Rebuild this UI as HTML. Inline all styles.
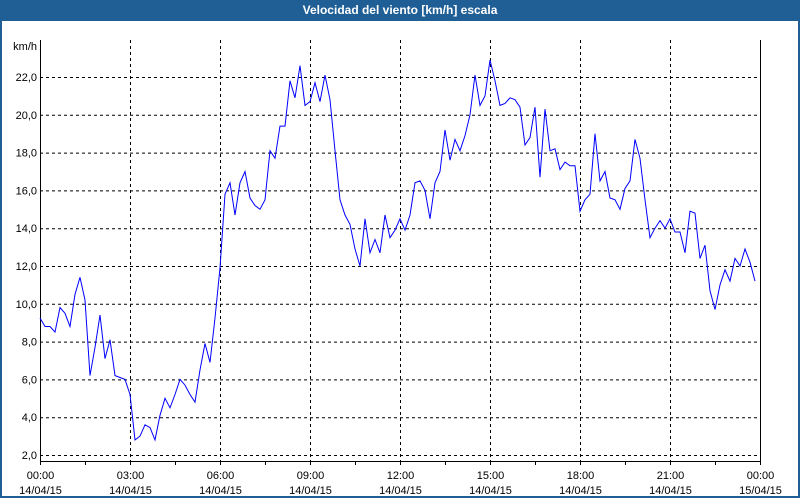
<!DOCTYPE html>
<html><head><meta charset="utf-8"><style>
body{margin:0;width:800px;height:500px;overflow:hidden;background:#fff;font-family:"Liberation Sans",sans-serif}
#win{position:absolute;left:0;top:0;width:796px;height:496px;border:2px solid #1f5f96;border-top:none;background:#fff}
#title{position:absolute;left:0;top:0;width:800px;height:21px;background:#1f5f96;color:#fff;font-weight:bold;font-size:12px;text-align:center;line-height:21px}
svg{position:absolute;left:0;top:0}
svg text{font-family:"Liberation Sans",sans-serif;font-size:11px;fill:#000}
</style></head><body>
<div id="win"></div>
<div id="title">Velocidad del viento [km/h] escala</div>
<svg id="chart" width="800" height="500"></svg>
<script>
const yTicks=[2,4,6,8,10,12,14,16,18,20,22];
const xTickLabels=["00:00","03:00","06:00","09:00","12:00","15:00","18:00","21:00","00:00"];
const xDateLabels=["14/04/15","14/04/15","14/04/15","14/04/15","14/04/15","14/04/15","14/04/15","14/04/15","15/04/15"];
const speed=[9.25,8.8,8.8,8.5,9.8,9.5,8.8,10.5,11.4,10.2,6.2,7.7,9.4,7.1,8.1,6.2,6.1,6.0,5.2,2.8,3.0,3.6,3.45,2.8,4.1,5.0,4.5,5.2,6.0,5.7,5.2,4.8,6.5,7.9,6.9,9.25,11.9,15.8,16.4,14.7,16.4,17.0,15.6,15.2,15.0,15.5,18.1,17.7,19.4,19.4,21.8,20.9,22.6,20.5,20.7,21.7,20.7,22.1,20.8,18.1,15.5,14.7,14.2,12.9,12.0,14.5,12.7,13.4,12.7,14.7,13.5,13.9,14.5,13.9,14.7,16.4,16.5,16.0,14.5,16.4,17.0,19.2,17.6,18.7,18.1,18.9,20.0,22.1,20.5,21.0,22.9,21.8,20.5,20.6,20.9,20.8,20.4,18.4,18.8,20.4,16.7,20.3,18.1,18.2,17.1,17.5,17.3,17.3,14.9,15.5,15.8,19.0,16.5,17.0,15.6,15.5,15.0,16.1,16.5,18.7,17.7,15.5,13.5,14.0,14.4,14.0,14.5,13.8,13.8,12.7,14.9,14.8,12.4,13.1,10.7,9.7,11.0,11.8,11.2,12.4,12.0,12.9,12.2,11.2];
const X0=40,X1=760,Y2=455,Y22=77,YB=461,YT=40;
const xs=h=>X0+(X1-X0)*h/24;
const ys=v=>Y2+(v-2)*(Y22-Y2)/20;
const svg=document.getElementById('chart');
const NS='http://www.w3.org/2000/svg';
function mk(t,a){const e=document.createElementNS(NS,t);for(const k in a)e.setAttribute(k,a[k]);svg.appendChild(e);return e;}
yTicks.forEach(v=>{
 const l=mk('line',{x1:X0,x2:X1,y1:ys(v)+0.5,y2:ys(v)+0.5,stroke:'#000','stroke-dasharray':'3,3'});
 
 
 const t=mk('text',{x:X0-3,y:ys(v)+4,'text-anchor':'end'});t.textContent=v.toFixed(1).replace('.',',');
 
 
});
xTickLabels.forEach((s,i)=>{
 const x=Math.round(xs(i*3))+0.5;
 if(i>0&&i<8){const l=mk('line',{x1:x,x2:x,y1:YT,y2:YB,stroke:'#000','stroke-dasharray':'3,3'});
 
 }
 const t=mk('text',{x:x,y:479,'text-anchor':'middle'});t.textContent=s;
 
 
 const d=mk('text',{x:x,y:494,'text-anchor':'middle'});d.textContent=xDateLabels[i];
 
 
});
for(let h=0;h<=24;h+=1.5){const x=Math.round(xs(h))+0.5;const l=mk('line',{x1:x,x2:x,y1:YB,y2:YB+4,stroke:'#000'});
 
 }
const ax=mk('path',{d:`M${X0+0.5},${YT}V${YB+0.5}H${X1+0.5}V${YT}`,fill:'none',stroke:'#000'});


const u=mk('text',{x:X0-3,y:50,'text-anchor':'end'});u.textContent='km/h';


const pts=speed.map((v,i)=>xs(i*24/144).toFixed(1)+','+ys(v).toFixed(1)).join(' ');
const pl=mk('polyline',{points:pts,fill:'none',stroke:'#0000ff','stroke-width':1});


</script>
</body></html>
